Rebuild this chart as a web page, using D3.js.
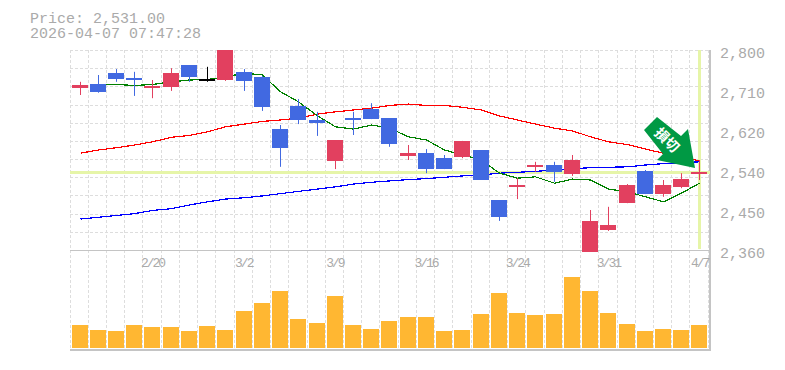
<!DOCTYPE html>
<html>
<head>
<meta charset="utf-8">
<script src="https://cdn.jsdelivr.net/npm/d3@7"></script>
<style>
  html, body { margin: 0; padding: 0; background: #fff; }
  text { font-family: "Liberation Mono", monospace; fill: #aaa; }
</style>
</head>
<body>
<svg id="chart" width="785" height="370"></svg>
<script>
const dates = ["2/16","2/17","2/18","2/19","2/20","2/24","2/25","2/26","2/27","3/2","3/3","3/4","3/5","3/6","3/9","3/10","3/11","3/12","3/13","3/16","3/17","3/18","3/19","3/23","3/24","3/25","3/26","3/27","3/30","3/31","4/1","4/2","4/3","4/6","4/7"];
const opens  = [2716,2725,2749,2738,2716,2719,2767,2736,2734,2752,2741,2626,2677,2646,2556,2650,2670,2650,2567,2573,2562,2565,2580,2470,2499,2545,2547,2527,2356,2404,2463,2534,2483,2499,2527];
const highs  = [2730,2745,2758,2752,2734,2760,2767,2763,2800,2758,2743,2635,2692,2664,2602,2664,2683,2650,2591,2582,2569,2600,2580,2470,2518,2554,2554,2569,2448,2455,2505,2536,2514,2529,2558];
const lows   = [2701,2706,2730,2699,2694,2710,2730,2730,2732,2710,2666,2543,2637,2611,2538,2613,2648,2587,2558,2529,2538,2562,2514,2424,2472,2532,2510,2523,2356,2402,2463,2483,2477,2496,2514];
const closes = [2722,2708,2736,2734,2721,2749,2741,2736,2800,2732,2675,2584,2646,2639,2602,2646,2648,2593,2573,2538,2538,2600,2514,2433,2503,2547,2532,2558,2424,2415,2503,2483,2503,2516,2531];
const volumes = [23,18,17,23,21,21,17,22,18,37,45,57,29,25,52,23,19,27,31,31,17,18,34,55,35,33,34,71,57,35,24,17,19,18,23];
const maShort = [null,2723,2724,2722,2724,2730,2734,2735,2741,2749,2745,2708,2686,2655,2631,2626,2635,2628,2609,2602,2580,2569,2558,2529,2518,2521,2507,2516,2514,2494,2488,2477,2466,2485,2507];
const maMid   = [2573,2580,2585,2591,2598,2608,2612,2620,2631,2637,2643,2646,2650,2659,2664,2668,2672,2678,2681,2678,2678,2674,2668,2655,2646,2637,2628,2622,2609,2598,2592,2582,2573,2565,2556];
const maLong  = [2428,2432,2436,2440,2447,2451,2459,2466,2472,2475,2479,2484,2489,2494,2499,2505,2509,2512,2515,2517,2520,2523,2525,2529,2531,2533,2536,2539,2541,2542,2543,2547,2550,2552,2554];
const priceTicks = [2800,2712,2624,2536,2448,2360];
const dateTicks = ["2/20","3/2","3/9","3/16","3/24","3/31","4/7"];
const lastPrice = 2531;
const stamp = "2026-04-07 07:47:28";

const svg = d3.select("#chart");

// band starts sit on the dashed grid lines
const x = d3.scaleBand().domain(dates).range([70, 708.2]);
const y = d3.scaleLinear().domain([2360, 2800]).range([250, 50]);
const yVol = d3.scaleLinear().domain([0, 100]).range([348, 248]);
const left = d => Math.floor(x(d));
const i2d = i => dates[i];

// grid
const gridV = dates.map(left).concat([708]);
svg.append("g").selectAll("line").data(gridV).enter().append("line")
  .attr("x1", d => d + 0.5).attr("x2", d => d + 0.5)
  .attr("y1", 50).attr("y2", 350)
  .attr("stroke", "#ddd").attr("stroke-dasharray", "3,2");
svg.append("g").selectAll("line").data(d3.range(2360, 2801, 40)).enter().append("line")
  .attr("x1", 70).attr("x2", 709)
  .attr("y1", d => Math.round(y(d)) + 0.5).attr("y2", d => Math.round(y(d)) + 0.5)
  .attr("stroke", "#ddd").attr("stroke-dasharray", "3,2");

// frame
const frame = svg.append("g").attr("stroke", "#c4c4c4").attr("stroke-width", 1);
frame.append("line").attr("x1", 70).attr("x2", 711).attr("y1", 250.5).attr("y2", 250.5);
frame.append("line").attr("x1", 70).attr("x2", 711).attr("y1", 350).attr("y2", 350).attr("stroke-width", 2);
frame.append("line").attr("x1", 710).attr("x2", 710).attr("y1", 50).attr("y2", 351).attr("stroke-width", 2);

// last price cross hair
svg.append("rect").attr("x", 70).attr("width", 640).attr("y", Math.round(y(lastPrice)) - 1).attr("height", 3).attr("fill", "#e6f5a8");
svg.append("rect").attr("x", left("4/7") + 9).attr("width", 3).attr("y", 50).attr("height", 199).attr("fill", "#e6f5a8");

// moving averages
function drawMa(vals, color) {
  const line = d3.line()
    .defined(d => d != null)
    .x((d, i) => left(i2d(i)) + 10.5)
    .y(d => y(d));
  svg.append("path").attr("d", line(vals))
    .attr("fill", "none").attr("stroke", color).attr("stroke-width", 1.2)
    .attr("shape-rendering", "crispEdges");
}
drawMa(maLong, "#0000ff");
drawMa(maMid, "#ff0000");
drawMa(maShort, "#008000");

// candles
const candleColor = i => closes[i] > opens[i] ? "#e2405f" : closes[i] < opens[i] ? "#4169e1" : "#000";
const candles = svg.append("g").selectAll("g").data(dates).enter().append("g");
candles.append("line")
  .attr("x1", d => left(d) + 10.5).attr("x2", d => left(d) + 10.5)
  .attr("y1", (d, i) => y(highs[i])).attr("y2", (d, i) => y(lows[i]))
  .attr("stroke", (d, i) => candleColor(i));
candles.append("rect")
  .attr("x", d => left(d) + 2).attr("width", 16)
  .attr("y", (d, i) => Math.round(y(Math.max(opens[i], closes[i]))))
  .attr("height", (d, i) => Math.max(2, Math.round(y(Math.min(opens[i], closes[i])) - y(Math.max(opens[i], closes[i])))))
  .attr("fill", (d, i) => candleColor(i));

// volume
svg.append("g").selectAll("rect").data(dates).enter().append("rect")
  .attr("x", d => left(d) + 2).attr("width", 16)
  .attr("y", (d, i) => yVol(volumes[i]))
  .attr("height", (d, i) => yVol(0) - yVol(volumes[i]))
  .attr("fill", "#ffb732");

// axes
const axisY = d3.axisRight(y).tickValues(priceTicks).tickSize(0).tickPadding(0)
  .tickFormat(d => d3.format(",")(Math.round(d / 10) * 10));
const gy = svg.append("g").attr("transform", "translate(720,0)").call(axisY);
gy.select(".domain").remove();
gy.selectAll("text").attr("dy", 7).style("font-size", "15px").attr("fill", null);

const axisX = d3.axisBottom(x).tickValues(dateTicks).tickSize(0).tickPadding(0);
const gx = svg.append("g").attr("transform", "translate(0,256)").call(axisX);
gx.select(".domain").remove();
gx.selectAll("text").attr("dy", 11).attr("x", 0.5).attr("y", 0).style("font-size", "13px").style("letter-spacing", "-2px").attr("fill", null);

// header
svg.append("text").attr("x", 30).attr("y", 23).style("font-size", "15px").text("Price: " + d3.format(",.2f")(lastPrice));
svg.append("text").attr("x", 30).attr("y", 38).style("font-size", "15px").text(stamp);

// arrow note
svg.append("polygon")
  .attr("points", "657,117 644,130 663,154 657,160 695,168 688,129 681,136")
  .attr("fill", "#009944");
svg.append("text").attr("transform", "translate(667,140) rotate(45)")
  .attr("text-anchor", "middle").attr("dy", 5)
  .style("font-family", "'Noto Sans CJK JP'").style("font-size", "14px").style("font-weight", "700").style("fill", "#fff")
  .text("損切");
</script>
</body>
</html>
